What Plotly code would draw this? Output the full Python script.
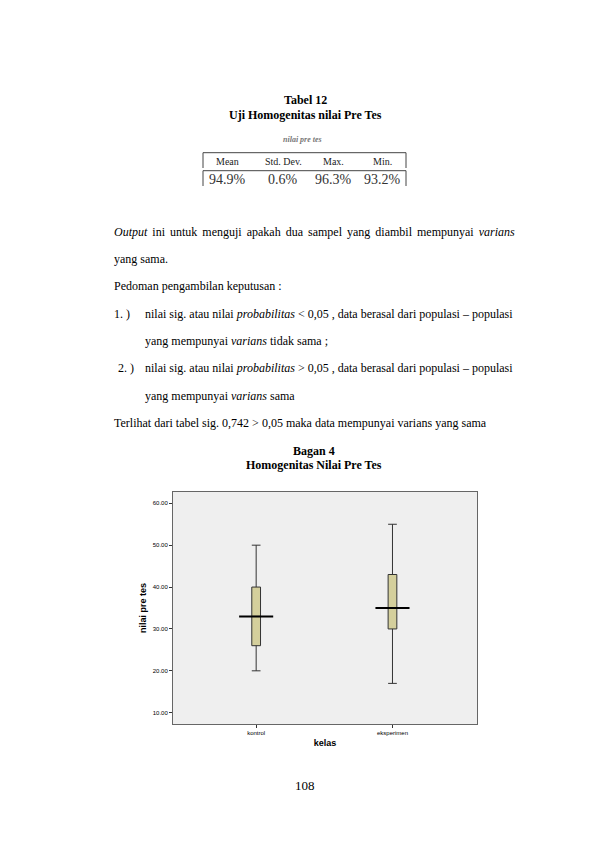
import plotly.graph_objects as go

# box plot data (nilai pre tes per kelas)
kelas = ["kontrol", "eksperimen"]
lower = [20, 17]
q1 = [26, 30]
median = [33, 35]
q3 = [40, 43]
upper = [50, 55]
y_ticks = [10, 20, 30, 40, 50, 60]

# table above the chart
tabel_head = ["Mean", "Std. Dev.", "Max.", "Min."]
tabel_vals = ["94.9%", "0.6%", "96.3%", "93.2%"]

# plot area in page pixels
L, R, T, B = 173, 477, 492, 724
def px(x):
    return (x - L) / (R - L)
def py(y):
    return (B - y) / (B - T)

fig = go.Figure()
xs = list(range(len(kelas)))
for i in xs:
    fig.add_trace(go.Box(x=[i], q1=[q1[i]], median=[median[i]], q3=[q3[i]],
                         lowerfence=[lower[i]], upperfence=[upper[i]],
                         width=0.064, whiskerwidth=1, fillcolor="#d4cf9c",
                         line=dict(color="#333333", width=1), showlegend=False,
                         hoverinfo="skip"))
    # SPSS style wide median bar
    fig.add_trace(go.Scatter(x=[i - 0.125, i + 0.125], y=[median[i], median[i]],
                             mode="lines", line=dict(color="black", width=2),
                             showlegend=False, hoverinfo="skip"))

serif = "Liberation Serif"
ann = []
def txt(x, y, s, size=12, anchor="left", color="black", family=serif):
    ann.append(dict(x=px(x), y=py(y), xref="paper", yref="paper", text=s,
                    showarrow=False, xanchor=anchor, yanchor="middle",
                    font=dict(family=family, size=size, color=color)))

txt(305, 100, "<b>Tabel 12</b>", anchor="center")
txt(305, 115, "<b>Uji Homogenitas nilai Pre Tes</b>", anchor="center")
txt(302, 139, "<b><i>nilai pre tes</i></b>", size=8, anchor="center", color="#777")

col_x = [227, 283, 333, 382]
for cx, h, v in zip(col_x, tabel_head, tabel_vals):
    txt(cx, 161.5, h, size=10, anchor="center", color="#222")
    txt(cx, 179, v, size=14, anchor="center", color="#333")

# justified first line: a small extra space in every gap
gap = ' <span style="font-size:8px">\u00a0</span>'
words = ["<i>Output</i>", "ini", "untuk", "menguji", "apakah", "dua",
         "sampel", "yang", "diambil", "mempunyai", "<i>varians</i>"]
txt(112, 231.5, gap.join(words))
txt(112, 258.5, "yang sama.")
txt(112, 286, "Pedoman pengambilan keputusan :")
txt(112, 313.5, "1. )")
txt(143, 313.5, "nilai sig. atau nilai <i>probabilitas</i> &lt; 0,05 , data berasal dari populasi \u2013 populasi")
txt(143, 340.5, "yang mempunyai <i>varians</i> tidak sama ;")
txt(116, 368, "2. )")
txt(143, 368, "nilai sig. atau nilai <i>probabilitas</i> &gt; 0,05 , data berasal dari populasi \u2013 populasi")
txt(143, 395.5, "yang mempunyai <i>varians</i> sama")
txt(112, 422.5, "Terlihat dari tabel sig. 0,742 &gt; 0,05 maka data mempunyai varians yang sama")
txt(314, 451, "<b>Bagan 4</b>", anchor="center")
txt(314, 465, "<b>Homogenitas Nilai Pre Tes</b>", anchor="center")
txt(305, 785, "108", size=13, anchor="center")

# table frame lines
shapes = []
def seg(x0, y0, x1, y1, color="#444", w=1):
    shapes.append(dict(type="line", xref="paper", yref="paper",
                       x0=px(x0), y0=py(y0), x1=px(x1), y1=py(y1),
                       line=dict(color=color, width=w)))
seg(203, 152.7, 406, 152.7)
seg(203, 152.7, 203, 168)
seg(406, 152.7, 406, 168)
seg(203, 170.7, 406, 170.7)
seg(203, 170.7, 203, 186)
seg(406, 170.7, 406, 186)

sans = "Liberation Sans"
fig.update_layout(
    width=596, height=842,
    margin=dict(l=L, r=596 - R, t=T, b=842 - B),
    paper_bgcolor="white", plot_bgcolor="#efefef",
    annotations=ann, shapes=shapes,
    font=dict(family=sans, color="black"),
)
fig.update_xaxes(range=[-0.61, 1.62], tickvals=xs, ticktext=kelas,
                 ticks="outside", ticklen=3, tickcolor="#333",
                 tickfont=dict(family=sans, size=6), showgrid=False, zeroline=False,
                 showline=True, linecolor="#666", mirror=True,
                 title=dict(text="<b>kelas</b>", font=dict(family=sans, size=9), standoff=4))
fig.update_yaxes(range=[7.3, 62.7], tickvals=y_ticks, tickformat=".2f",
                 ticks="outside", ticklen=3, tickcolor="#333",
                 tickfont=dict(family=sans, size=6), showgrid=False, zeroline=False,
                 showline=True, linecolor="#666", mirror=True,
                 title=dict(text="<b>nilai pre tes</b>", font=dict(family=sans, size=9), standoff=4))

fig.write_html("out.html", config={"displayModeBar": False},
               post_script="document.body.style.margin='0';")
